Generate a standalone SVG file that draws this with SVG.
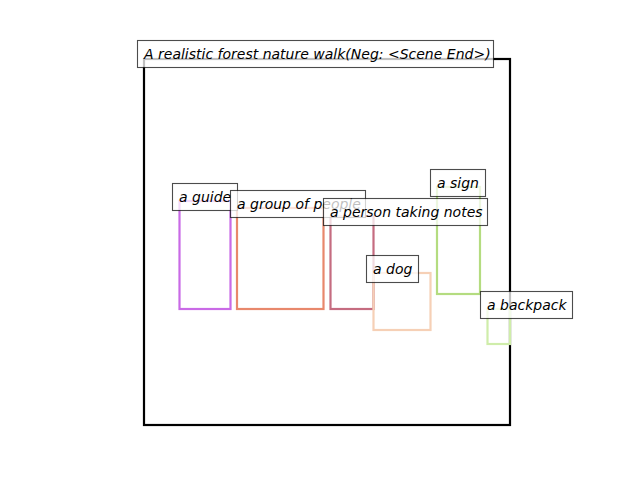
<svg xmlns="http://www.w3.org/2000/svg" width="640" height="480" viewBox="0 0 640 480">
<style>
.lbl rect{fill:#ffffff;fill-opacity:0.75;stroke:#000;stroke-opacity:0.7;stroke-width:1.1}
.lbl text{font-family:"DejaVu Sans",sans-serif;font-style:oblique;font-size:14px;fill:#000}
.box{fill:none;stroke-width:2.2}
</style>
<rect width="640" height="480" fill="#ffffff"/>
<g id="frame"><rect x="144" y="59" width="366" height="366" fill="none" stroke="#000" stroke-width="2.2"/></g>
<g id="boxes">
<rect id="box-guide" class="box" x="179.5" y="201" width="51" height="108" stroke="#c96ae6"/>
<rect id="box-group" class="box" x="237" y="208" width="86.5" height="101" stroke="#e8886c"/>
<rect id="box-person" class="box" x="330.5" y="216" width="43" height="93" stroke="#c56c80"/>
<rect id="box-dog" class="box" x="373.5" y="273" width="57" height="57" stroke="#f6d0b6"/>
<rect id="box-sign" class="box" x="437" y="187" width="43" height="107" stroke="#b4dc80"/>
<rect id="box-backpack" class="box" x="487.5" y="309" width="22.5" height="35" stroke="#cfedaa"/>
</g>
<g id="label-title" class="lbl"><rect x="137.5" y="40.5" width="356" height="27"/><text x="144" y="59">A realistic forest nature walk(Neg: &lt;Scene End&gt;)</text></g>
<g id="label-guide" class="lbl"><rect x="172.5" y="183.5" width="65" height="27"/><text x="179" y="202">a guide</text></g>
<g id="label-group" class="lbl"><rect x="230.5" y="190.5" width="135" height="27"/><text x="237" y="209">a group of people</text></g>
<g id="label-person" class="lbl"><rect x="323.5" y="198.5" width="164" height="27"/><text x="330" y="217">a person taking notes</text></g>
<g id="label-dog" class="lbl"><rect x="366.5" y="255.5" width="52" height="27"/><text x="373" y="274">a dog</text></g>
<g id="label-sign" class="lbl"><rect x="430.5" y="169.5" width="55" height="27"/><text x="437" y="188">a sign</text></g>
<g id="label-backpack" class="lbl"><rect x="480.5" y="291.5" width="92" height="27"/><text x="487" y="310">a backpack</text></g>
</svg>
